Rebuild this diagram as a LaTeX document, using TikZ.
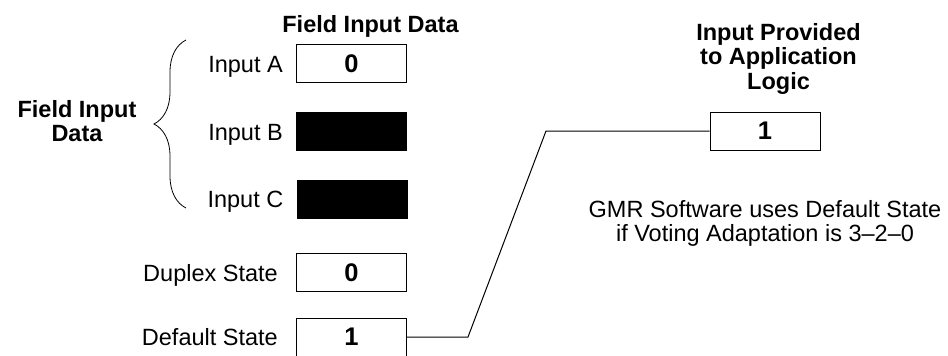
\documentclass[tikz,border=0pt]{standalone}
\usepackage{fontspec}
\setmainfont{Liberation Sans}
\usetikzlibrary{positioning, decorations.pathreplacing}
\tikzset{
  every node/.style={font=\fontsize{23.5}{24.5}\selectfont},
  valbox/.style={
    draw, line width=1pt,
    minimum width=110pt, minimum height=38pt, inner sep=0pt,
    font=\fontsize{25.5}{26}\selectfont\bfseries
  },
  voidbox/.style={valbox, fill=black},
  lbl/.style={inner sep=0pt, text height=17pt, text depth=0pt},
  hdr/.style={inner sep=0pt, align=center, anchor=north,
    font=\fontsize{23.5}{24.5}\selectfont\bfseries},
  note/.style={inner sep=0pt, align=center, anchor=north},
}

\begin{document}
\begin{tikzpicture}[x=1pt, y=-1pt]
  \useasboundingbox (0,0) rectangle (948,356);

  % field inputs
  \node[valbox]  (inA)  at (351.5,63.5)  {0};
  \node[voidbox] (inB)  at (351.5,131.5) {};
  \node[voidbox] (inC)  at (352,199)     {};
  \node[valbox]  (dup)  at (351.5,272.5) {0};
  \node[valbox]  (dflt) at (351.5,337)   {1};

  \node[lbl, left=13pt of inA]  {Input A};
  \node[lbl, left=13pt of inB]  {Input B};
  \node[lbl, left=13pt of inC]  {Input C};
  \node[lbl, left=18pt of dup]  {Duplex State};
  \node[lbl, left=18pt of dflt] {Default State};

  \node[hdr] (fidTop)  at (370.5,15) {Field Input Data};
  \node[hdr] (fidSide) at (77,100)   {Field Input\\Data};

  \coordinate (brBot) at (186,208);
  \coordinate (brTop) at (186,40);
  \draw[decorate, decoration={brace, amplitude=32pt}, line width=0.8pt]
    (brBot) -- (brTop);

  % application side
  \node[valbox] (out) at (765,131) {1};
  \node[hdr] (appTitle) at (778.5,23) {Input Provided\\to Application\\Logic};
  \node[note] (gmr) at (765,200)
    {GMR Software uses Default State\\if Voting Adaptation is 3--2--0};

  \coordinate (kneeL) at (468,337);
  \coordinate (kneeR) at (546,131);
  \draw[line width=1pt] (dflt.east) -- (kneeL) -- (kneeR) -- (out.west);
\end{tikzpicture}
\end{document}
